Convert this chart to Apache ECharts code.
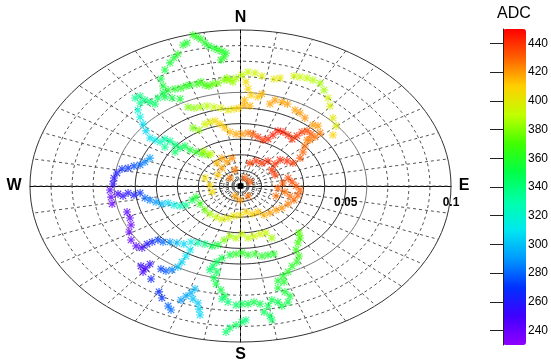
<!DOCTYPE html>
<html><head><meta charset="utf-8">
<script src="https://cdn.jsdelivr.net/npm/echarts@6/dist/echarts.min.js"></script>
<style>html,body{margin:0;padding:0;background:#fff}#c{width:551px;height:362px}</style>
</head><body><div id="c"></div>
<script>
// Points: [x, y, ADC]; x and y in units of 1e-3 (axis shows 0.05, 0.1)
const armNorthOuter = [
[-22.6,96.8,362],[-20.7,95.5,362],[-18.8,94.2,360],[-16.9,91.7,360],[-15.0,89.7,358],[-12.6,88.4,358],
[-10.7,87.2,360],[-8.8,86.5,360],[-6.9,85.2,358],[-7.8,82.7,360],[-9.3,80.8,360],[-27.3,90.4,358],
[-25.4,91.7,358],[-29.7,84.6,360],[-31.6,82.1,357],[-33.5,78.9,355],[-35.9,74.4,355],[-37.8,68.6,352],
[-36.8,64.1,355],[-34.4,61.5,358],[-31.1,62.2,360],[-28.3,62.8,362],[-25.9,64.1,362],[-24.0,64.7,362],
[-20.7,65.4,365],[-18.8,66.7,366],[-16.9,64.7,368],[-15.0,64.1,370],[-13.1,65.4,372],[-10.7,66.0,375],
[-7.8,67.9,380],[-6.4,69.2,380],[-5.0,67.9,382],[-3.6,66.7,384],[-2.1,69.2,385],[0.7,71.2,390],
[3.6,73.1,392],[6.9,72.4,395],[10.2,70.5,398],[15.9,68.6,400],[18.8,69.2,402],[25.4,70.5,395],
[28.3,69.9,392],[31.6,69.2,390],[34.4,67.9,388],[37.8,66.0,385],[39.7,61.5,385],[41.6,56.4,395],
[42.5,51.3,398],[43.9,43.6,400],[45.4,38.5,398],[43.9,32.7,410]
];
const armNorthWest = [
[-50.1,56.4,335],[-47.7,57.7,338],[-45.4,55.1,340],[-43.0,53.8,342],[-40.6,52.6,345],[-47.7,53.2,335],
[-39.2,56.4,348],[-35.9,57.1,350],[-32.5,56.4,352],[-28.7,55.8,355],[-36.8,59.6,352],
[-48.7,48.7,320],[-47.7,44.2,315],[-46.3,39.7,308],[-44.9,35.3,305],[-43.0,30.8,308],[-40.6,29.5,312],
[-38.2,28.2,325],[-35.9,30.1,330],[-33.5,28.8,335],[-31.1,26.3,340],[-28.7,24.4,345],[-26.4,25.6,350],
[-24.0,23.1,355],[-21.1,21.8,362],[-18.3,20.5,370],[-15.4,19.9,378],[-31.1,21.8,345],[-35.9,25.0,335],
[-17.4,22.4,385],[-14.0,20.5,392],[-22.6,37.2,378],[-19.7,35.9,382]
];
const armWest = [
[-43.0,17.9,290],[-45.4,15.4,285],[-47.7,13.5,280],[-50.6,12.8,275],[-53.4,11.5,270],[-56.3,10.9,268],
[-58.7,8.3,262],[-60.1,5.1,258],[-60.6,1.3,255],[-62.0,-2.6,245],[-61.5,-7.1,242],[-61.0,-11.5,240],
[-58.2,-5.1,250],[-55.8,-6.4,255],[-53.4,-4.5,258],[-50.6,-5.8,262],[-47.7,-4.5,268],
[-53.9,-16.7,245],[-52.5,-20.5,242],[-52.0,-25.0,240],[-52.9,-29.5,240],[-52.0,-34.6,242],[-49.6,-38.5,245],
[-46.8,-39.7,250],[-44.4,-37.2,258],[-42.0,-35.9,265],[-39.2,-34.6,272],[-36.8,-35.9,280],[-33.5,-35.9,290],
[-30.2,-36.5,298],[-26.9,-37.2,305],[-23.5,-35.9,315],[-20.2,-36.5,330],[-16.9,-37.2,340],[-13.5,-38.5,350],
[-10.7,-37.8,355]
];
const armMiddle = [
[-45.4,-7.7,280],[-43.0,-9.0,285],[-40.1,-10.3,290],[-37.3,-11.5,298],[-34.4,-10.9,305],[-31.6,-12.2,315],
[-28.7,-12.8,325],[-25.9,-12.2,335],[-23.0,-9.0,350],[-21.1,-7.1,358],[-19.2,-11.5,365],[-16.9,-15.4,375],
[-14.5,-17.9,385],[-11.6,-19.9,392],[-8.8,-21.2,398],[-5.9,-20.5,400],[-3.1,-19.2,402],[-0.2,-18.6,405],
[2.6,-16.7,408],[5.5,-17.9,410],[8.3,-16.7,412],[11.2,-18.6,415],[14.0,-17.3,418],[16.9,-15.4,420],
[19.7,-14.1,422],[22.6,-11.5,425],[25.4,-9.0,428],[27.3,-5.8,430],[28.3,-2.6,430]
];
const armCenter = [
[26.4,0,432],[24.5,2.6,435],[22.6,5.1,435],[20.2,1.9,432],[17.8,-1.3,430],[21.1,-3.8,428],[23.5,-6.4,428],
[16.9,-6.4,428],[16.4,7.1,438],[14.9,10.3,440],[16.4,14.1,440],[18.8,16.7,442],[22.1,16.0,442],
[24.9,14.7,438],[28.3,17.9,432],[29.7,21.8,430],[30.6,25.6,428],[31.6,29.5,425],[10.2,14.7,440],
[7.4,16.0,440],[4.5,14.7,438],[13.1,16.0,442],
[-16.9,5.1,405],[-14.5,0.6,408],[-13.5,-3.8,405],[-10.7,7.1,412],[-8.8,11.5,418],[-6.4,15.4,420],
[-4.0,17.9,422],[-8.8,17.9,418],[-11.2,14.7,415],[-2.6,10.3,425],[-5.0,5.1,425],[2.1,5.1,430],
[4.5,2.6,432],[3.6,-6.4,428],[-0.2,-9.0,420],[-2.6,-6.4,418]
];
const armNorthInner = [
[-16.9,39.7,395],[-14.5,41.0,398],[-12.1,41.7,405],[-9.7,39.7,410],[-7.4,37.2,412],[-5.0,34.6,415],
[-2.1,33.3,418],[0.7,33.3,420],[3.6,34.0,425],[5.9,33.3,432],[8.3,31.4,438],[10.7,29.5,440],
[13.1,30.1,442],[15.4,32.7,444],[17.8,35.3,445],[20.2,34.6,444],[22.6,32.7,442],[24.5,30.1,440],
[26.8,32.1,440],[29.2,34.6,438],[31.6,35.3,436],[33.5,33.3,432],[35.4,31.4,428],[37.8,34.0,425],
[36.8,38.5,420],[34.4,39.1,420],[33.0,29.5,425],[28.3,46.8,420],[30.6,43.6,422],[25.9,48.7,418],
[22.3,52.6,420],[19.7,53.8,418],[16.4,55.1,420],[14.0,52.6,418],[10.2,59.0,415],[8.3,57.1,412],
[2.6,66.7,405],[3.6,62.2,408],[5.0,58.3,410],[1.9,55.1,414],[1.7,51.9,416],[4.5,51.3,415],
[-24.9,50.6,378],[-22.1,50.0,382],[-19.2,50.6,385],[-15.9,51.3,388],[-12.6,50.6,392],[-9.3,50.0,396],
[-5.9,48.7,400],[-3.1,49.4,405],[-0.7,50.0,410]
];
const armSouth = [
[0.7,-30.8,392],[3.6,-33.3,390],[6.4,-32.1,393],[9.3,-30.8,395],[12.1,-30.1,392],[14.9,-33.3,385],
[-2.1,-33.3,388],[-5.0,-32.1,385],[-7.8,-34.6,378],
[-2.1,-43.6,360],[0.7,-42.9,362],[3.6,-44.2,360],[6.9,-43.6,362],[10.2,-44.9,360],[13.1,-44.2,358],
[15.9,-43.6,360],[-5.0,-44.2,355],
[27.8,-30.1,372],[28.3,-33.3,370],[27.3,-36.5,368],[26.4,-41.0,365],[27.8,-44.9,365],[26.8,-48.7,362],
[24.5,-51.3,360],[22.6,-55.1,360],[20.2,-57.7,358],[17.8,-60.9,356],[20.7,-61.5,358],[17.8,-65.4,355],
[21.1,-67.9,355],[23.5,-70.5,354],[22.6,-74.4,352],[19.7,-76.9,352],[17.8,-74.4,350],[14.9,-73.1,350],
[13.1,-76.9,348],[11.2,-80.8,348],[14.0,-83.3,347],[14.9,-85.9,345],[9.3,-75.6,350],[6.4,-74.4,352],
[3.6,-75.6,350],[0.7,-75.6,348],[-2.1,-76.3,345],[-5.9,-74.4,342],[-8.8,-72.4,340],
[-5.0,-91.0,345],[-2.1,-89.1,348],[0.7,-87.2,345],[2.6,-85.9,340],[-6.9,-93.6,345],
[-13.1,-51.3,345],[-11.2,-55.1,348],[-12.6,-58.9,350],[-11.6,-62.8,352],[-9.3,-66.7,352],[-7.4,-70.5,350],
[-14.5,-53.8,342],[-8.8,-46.2,352],[-11.2,-48.7,348]
];
const armSouthWest = [
[-23.9,-41.0,310],[-25.9,-44.9,308],[-27.8,-48.7,305],[-29.7,-51.9,300],[-32.5,-53.8,285],[-35.4,-54.5,278],
[-37.8,-53.2,272],[-47.3,-51.3,252],[-45.0,-52.6,250],[-46.3,-55.1,248],[-43.0,-50.0,255],[-42.5,-59.6,265],
[-38.7,-67.9,268],[-37.3,-71.8,270],[-34.4,-76.9,280],[-33.0,-79.5,282],[-28.3,-73.1,290],[-25.9,-70.5,293],
[-23.5,-68.6,296],[-21.6,-66.0,298],[-22.6,-72.4,300],[-20.2,-75.0,302],[-19.7,-78.9,305],[-19.2,-82.7,305]
];
const points = [].concat(armNorthOuter, armNorthWest, armWest, armMiddle, armCenter, armNorthInner, armSouth, armSouthWest);

const adcTicks = [240,260,280,300,320,340,360,380,400,420,440];
const radialLabels = [50,100];
const solidRings = [10,20,30,40,50,60,100];
const dashedRings = [2,4,6,8,15,70,80,90];
const spokeAngles = [];
for (let a = 0; a < 360; a += 10) spokeAngles.push(a);
const compass = [['N',0,100,0,-12],['S',0,-100,0,13],['W',-100,0,-16,0],['E',100,0,13,0]];

const palette = ['#9000ff','#4000ff','#0030ff','#0099ff','#00e8f0','#00ffa8','#00ff48','#40ff00','#c0ff00','#ffd000','#ff6000','#ff0000'];

const star = 'path://M4.3 0H5.7V10H4.3Z M0 4.3H10V5.7H0Z M0.5 1.5L1.5 0.5L9.5 8.5L8.5 9.5Z M8.5 0.5L9.5 1.5L1.5 9.5L0.5 8.5Z';
const FONT = '"Liberation Sans", Arial, sans-serif';

function renderGrid(params, api) {
  const c = api.coord([0,0]);
  const children = [];
  const rxOf = r => api.coord([r,0])[0] - c[0];
  const ryOf = r => c[1] - api.coord([0,r])[1];
  spokeAngles.forEach(a => {
    const t = a*Math.PI/180;
    const p = api.coord([100*Math.cos(t), 100*Math.sin(t)]);
    children.push({type:'line', shape:{x1:c[0],y1:c[1],x2:p[0],y2:p[1]}, style:{stroke:'#555',lineWidth:1,lineDash:[3,3]}, silent:true});
  });
  dashedRings.forEach(r => {
    children.push({type:'ellipse', shape:{cx:c[0],cy:c[1],rx:rxOf(r),ry:ryOf(r)}, style:{fill:null,stroke:'#555',lineWidth:1,lineDash:[3,3]}, silent:true});
  });
  solidRings.forEach(r => {
    children.push({type:'ellipse', shape:{cx:c[0],cy:c[1],rx:rxOf(r),ry:ryOf(r)}, style:{fill:null,stroke: r===60?'#777':'#333',lineWidth:1}, silent:true});
  });
  children.push({type:'circle', shape:{cx:c[0],cy:c[1],r:3}, style:{fill:'#000'}, silent:true});
  compass.forEach(([t,x,y,dx,dy]) => {
    const p = api.coord([x,y]);
    children.push({type:'text', style:{text:t, x:p[0]+dx, y:p[1]+dy, align:'center', verticalAlign:'middle', font:'bold 16px ' + FONT, fill:'#000'}, silent:true});
  });
  radialLabels.forEach(r => {
    const p = api.coord([r,0]);
    children.push({type:'text', style:{text:String(r/1000), x:p[0], y:p[1]+17, align:'center', verticalAlign:'middle', font:'bold 12px ' + FONT, fill:'#000'}, silent:true});
  });
  return {type:'group', children};
}

const chart = echarts.init(document.getElementById('c'), null, {renderer:'canvas'});
chart.setOption({
  animation:false,
  backgroundColor:'#fff',
  title:{text:'ADC', left:497, top:6, padding:0, textStyle:{fontSize:16, fontWeight:'normal', color:'#000', fontFamily:FONT}},
  grid:[
    {left:30, top:30, width:421, height:312},
    {left:503, top:29, width:23, height:316}
  ],
  xAxis:[
    {type:'value', gridIndex:0, min:-100, max:100, splitLine:{show:false}, axisTick:{show:false}, axisLabel:{show:false},
     axisLine:{show:true, onZero:true, lineStyle:{color:'#000', width:1}}},
    {type:'value', gridIndex:1, min:0, max:1, show:false}
  ],
  yAxis:[
    {type:'value', gridIndex:0, min:-100, max:100, splitLine:{show:false}, axisTick:{show:false}, axisLabel:{show:false},
     axisLine:{show:true, onZero:true, lineStyle:{color:'#000', width:1}}},
    {type:'value', gridIndex:1, min:230, max:450, position:'right', z:10, splitLine:{show:false},
     axisLine:{show:true, lineStyle:{color:'#222', width:1}},
     axisTick:{show:true, inside:true, length:13, customValues:adcTicks, lineStyle:{color:'#222', width:1}},
     axisLabel:{show:true, customValues:adcTicks, fontSize:12, color:'#000', margin:3, fontFamily:FONT}}
  ],
  visualMap:{type:'continuous', min:230, max:450, dimension:2, seriesIndex:1, calculable:false, hoverLink:false,
    left:503, top:29, itemWidth:23, itemHeight:316, padding:0, text:null, showLabel:false,
    inRange:{color:palette}},
  series:[
    {type:'custom', xAxisIndex:0, yAxisIndex:0, data:[[0,0]], renderItem:renderGrid, z:1, silent:true, clip:false},
    {type:'scatter', xAxisIndex:0, yAxisIndex:0, data:points, symbol:star, symbolSize:8, z:3, silent:true}
  ]
});
</script></body></html>
